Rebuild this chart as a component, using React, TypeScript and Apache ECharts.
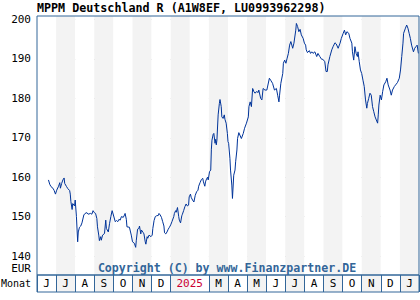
import React, { useEffect, useRef } from 'react';
import * as echarts from 'echarts';

const titleText = 'MPPM Deutschland R (A1W8EF, LU0993962298)';
const copyrightText = 'Copyright (C) by www.Finanzpartner.DE';
const currencyLabel = 'EUR';
const monthRowLabel = 'Monat';
const monthLabels = ['J', 'J', 'A', 'S', 'O', 'N', 'D', '2025', '', 'M', 'A', 'M', 'J', 'J', 'A', 'S', 'O', 'N', 'D', 'J'];
const yearLabelIndex = 7;
const noDividerIndex = 8;
const startYear = 2024;
const startMonth = 6;
const monthCount = 20;
const yMin = 140;
const yMax = 200;
const yStep = 10;

const dates = [
  '2024-06-19', '2024-06-21', '2024-06-23', '2024-06-26', '2024-06-28', '2024-06-30',
  '2024-07-02', '2024-07-05', '2024-07-07', '2024-07-08', '2024-07-10', '2024-07-12', '2024-07-14', '2024-07-15', '2024-07-18', '2024-07-20', '2024-07-23', '2024-07-24', '2024-07-25', '2024-07-27', '2024-07-28', '2024-07-31',
  '2024-08-01', '2024-08-03', '2024-08-05', '2024-08-06', '2024-08-08', '2024-08-10', '2024-08-12', '2024-08-15', '2024-08-17', '2024-08-20', '2024-08-22', '2024-08-26', '2024-08-28', '2024-08-30',
  '2024-09-01', '2024-09-03', '2024-09-05', '2024-09-06', '2024-09-08', '2024-09-09', '2024-09-11', '2024-09-12', '2024-09-14', '2024-09-17', '2024-09-19', '2024-09-20', '2024-09-23', '2024-09-25', '2024-09-27', '2024-09-29',
  '2024-10-01', '2024-10-04', '2024-10-06', '2024-10-08', '2024-10-10', '2024-10-12', '2024-10-14', '2024-10-17', '2024-10-19', '2024-10-20', '2024-10-22', '2024-10-23', '2024-10-27', '2024-10-30',
  '2024-11-01', '2024-11-04', '2024-11-06', '2024-11-07', '2024-11-09', '2024-11-11', '2024-11-12', '2024-11-14', '2024-11-15', '2024-11-18', '2024-11-19', '2024-11-21', '2024-11-22', '2024-11-24', '2024-11-25', '2024-11-27', '2024-11-30',
  '2024-12-02', '2024-12-03', '2024-12-05', '2024-12-07', '2024-12-09', '2024-12-12', '2024-12-13', '2024-12-15', '2024-12-17', '2024-12-19', '2024-12-21', '2024-12-22', '2024-12-24', '2024-12-26', '2024-12-28', '2024-12-30',
  '2025-01-01', '2025-01-03', '2025-01-06', '2025-01-07', '2025-01-09', '2025-01-10', '2025-01-12', '2025-01-14', '2025-01-15', '2025-01-17', '2025-01-19', '2025-01-20', '2025-01-22', '2025-01-24', '2025-01-26', '2025-01-28', '2025-01-30', '2025-01-31',
  '2025-02-02', '2025-02-03', '2025-02-05', '2025-02-07', '2025-02-09', '2025-02-11', '2025-02-13', '2025-02-14', '2025-02-16', '2025-02-18', '2025-02-20', '2025-02-21', '2025-02-23', '2025-02-24', '2025-02-25', '2025-02-27', '2025-02-28',
  '2025-03-02', '2025-03-04', '2025-03-05', '2025-03-06', '2025-03-08', '2025-03-09', '2025-03-11', '2025-03-12', '2025-03-13', '2025-03-14', '2025-03-16', '2025-03-18', '2025-03-19', '2025-03-21', '2025-03-22', '2025-03-24', '2025-03-26', '2025-03-27', '2025-03-29', '2025-03-31',
  '2025-04-01', '2025-04-02', '2025-04-04', '2025-04-05', '2025-04-07', '2025-04-08', '2025-04-10', '2025-04-12', '2025-04-13', '2025-04-15', '2025-04-16', '2025-04-18', '2025-04-22', '2025-04-25', '2025-04-27', '2025-04-30',
  '2025-05-03', '2025-05-04', '2025-05-06', '2025-05-08', '2025-05-10', '2025-05-12', '2025-05-14', '2025-05-16', '2025-05-19', '2025-05-20', '2025-05-23', '2025-05-25', '2025-05-27', '2025-05-30',
  '2025-06-02', '2025-06-06', '2025-06-08', '2025-06-11', '2025-06-14', '2025-06-17', '2025-06-19', '2025-06-21', '2025-06-22', '2025-06-24', '2025-06-27', '2025-06-28', '2025-06-30',
  '2025-07-02', '2025-07-04', '2025-07-06', '2025-07-08', '2025-07-10', '2025-07-13', '2025-07-15', '2025-07-18', '2025-07-19', '2025-07-21', '2025-07-23', '2025-07-25', '2025-07-27', '2025-07-30',
  '2025-08-01', '2025-08-03', '2025-08-04', '2025-08-06', '2025-08-09', '2025-08-11', '2025-08-13', '2025-08-15', '2025-08-18', '2025-08-21', '2025-08-23', '2025-08-26', '2025-08-29', '2025-08-31',
  '2025-09-03', '2025-09-05', '2025-09-07', '2025-09-08', '2025-09-11', '2025-09-14', '2025-09-16', '2025-09-19', '2025-09-21', '2025-09-24', '2025-09-27', '2025-09-29',
  '2025-10-02', '2025-10-04', '2025-10-06', '2025-10-08', '2025-10-11', '2025-10-13', '2025-10-16', '2025-10-17', '2025-10-19', '2025-10-21', '2025-10-23', '2025-10-25', '2025-10-26', '2025-10-28', '2025-10-30',
  '2025-11-01', '2025-11-03', '2025-11-05', '2025-11-07', '2025-11-09', '2025-11-10', '2025-11-12', '2025-11-14', '2025-11-16', '2025-11-18', '2025-11-20', '2025-11-22', '2025-11-24', '2025-11-26', '2025-11-27', '2025-11-28', '2025-11-30',
  '2025-12-02', '2025-12-04', '2025-12-06', '2025-12-09', '2025-12-11', '2025-12-13', '2025-12-16', '2025-12-18', '2025-12-20', '2025-12-23', '2025-12-25', '2025-12-28', '2025-12-31',
  '2026-01-02', '2026-01-04', '2026-01-06', '2026-01-07', '2026-01-10', '2026-01-12', '2026-01-14', '2026-01-16', '2026-01-18', '2026-01-20', '2026-01-23', '2026-01-25', '2026-01-27', '2026-01-29', '2026-01-31',
];

const values = [
  159.3, 158.2, 157.6, 157.2, 156.6, 155.7,
  156.7, 157.7, 158.6, 157.2, 158.4, 159.3, 159.8, 158.4, 157.6, 157.1, 156.6, 155.7, 153.8, 151.8, 153.3, 152.7,
  154.2, 150.0, 143.6, 146.1, 147.3, 147.6, 148.4, 150.4, 150.8, 151.0, 150.6, 150.8, 150.6, 151.5,
  151.0, 150.8, 149.5, 147.4, 145.3, 143.9, 144.9, 144.0, 145.3, 145.7, 149.1, 147.0, 146.1, 148.3, 150.0, 151.5,
  150.4, 148.7, 149.0, 148.7, 149.3, 149.1, 150.0, 149.8, 150.4, 150.8, 149.3, 147.4, 147.3, 145.3,
  143.6, 143.2, 142.2, 144.0, 146.8, 147.0, 147.6, 145.6, 146.6, 145.9, 145.6, 143.6, 143.0, 144.9, 144.5, 145.3, 144.9,
  145.3, 147.0, 149.0, 150.0, 150.2, 150.3, 150.8, 150.4, 149.8, 148.7, 147.6, 145.9, 145.6, 146.1, 146.8, 147.3,
  147.9, 148.7, 150.0, 150.8, 151.5, 151.1, 152.3, 150.0, 149.1, 148.4, 150.2, 150.6, 151.5, 152.5, 153.2, 152.7, 152.9, 155.0,
  155.7, 154.9, 154.2, 153.7, 155.4, 156.3, 156.7, 157.7, 158.6, 159.4, 159.7, 158.8, 157.7, 158.8, 159.3, 160.0, 159.3,
  161.4, 161.8, 167.1, 169.4, 170.9, 171.1, 168.6, 169.6, 168.2, 169.4, 175.8, 178.7, 179.7, 177.9, 175.3, 174.9, 175.8, 174.7, 173.7, 171.1,
  169.0, 168.6, 164.8, 161.8, 158.0, 154.6, 160.5, 161.8, 163.9, 166.9, 169.8, 171.3, 169.8, 171.1, 172.4, 173.7,
  175.3, 177.9, 179.1, 177.9, 182.5, 181.7, 181.3, 181.7, 181.5, 182.1, 180.0, 179.6, 182.5, 182.1,
  182.1, 185.1, 184.6, 183.8, 182.1, 182.5, 180.8, 179.1, 180.8, 183.8, 186.3, 188.9, 189.7,
  188.9, 190.2, 191.4, 193.5, 194.4, 192.7, 194.0, 197.3, 199.0, 198.2, 196.9, 197.5, 196.1, 195.2,
  194.0, 193.5, 192.3, 191.6, 192.1, 191.4, 191.8, 191.4, 191.8, 190.6, 191.4, 190.6, 189.9, 189.9,
  189.3, 186.8, 186.8, 188.5, 190.6, 192.3, 193.1, 194.1, 193.8, 192.7, 194.0, 195.2,
  196.5, 197.3, 196.1, 196.9, 196.5, 195.2, 194.0, 191.8, 189.7, 193.1, 191.4, 190.6, 191.8, 189.3, 187.2,
  186.3, 184.6, 183.0, 179.6, 177.5, 178.7, 180.0, 181.3, 180.8, 177.9, 176.6, 175.3, 174.5, 173.7, 175.8, 178.3, 180.8,
  179.6, 181.7, 183.4, 184.2, 185.1, 183.4, 182.1, 180.8, 182.1, 183.0, 183.4, 184.0, 185.1,
  187.2, 190.6, 194.0, 196.5, 197.8, 198.6, 197.8, 196.5, 195.2, 193.5, 191.8, 192.7, 193.1, 193.5, 191.4,
];

function monthPosition(d: string): number {
  const [y, m, day] = d.split('-').map(Number);
  const daysInMonth = new Date(y, m, 0).getDate();
  return (y - startYear) * 12 + (m - startMonth) + (day - 1) / daysInMonth;
}

const FRAME = '#336699';
const BAND = ['#ffffff', '#f3f3f3'];
const MONO = '"DejaVu Sans Mono", "Liberation Mono", monospace';

export default function App() {
  const ref = useRef<HTMLDivElement>(null);

  useEffect(() => {
    if (!ref.current) return;
    const chart = echarts.init(ref.current, null, { renderer: 'svg' });
    const L = 37;
    const R = 1;
    const option: any = {
      animation: false,
      backgroundColor: '#ffffff',
      grid: [
        { left: L, right: R, top: 16, height: 259, show: true, borderColor: FRAME, borderWidth: 1, backgroundColor: 'transparent', z: 10 },
        { left: L, right: R, top: 19.5, height: 236.5, show: false },
        { left: L, right: R, top: 275, height: 17, show: true, borderColor: FRAME, borderWidth: 1, backgroundColor: 'transparent', z: 10 },
      ],
      xAxis: [
        {
          gridIndex: 0, type: 'value', min: 0, max: monthCount, interval: 1,
          axisLine: { show: false }, axisTick: { show: false }, axisLabel: { show: false },
          splitLine: { show: false },
          splitArea: { show: true, areaStyle: { color: BAND } },
        },
        {
          gridIndex: 1, type: 'value', min: 0, max: monthCount, interval: 1, show: false,
        },
        {
          gridIndex: 2, type: 'category', data: monthLabels, boundaryGap: true,
          axisLine: { show: false }, axisTick: { show: false },
          axisLabel: {
            interval: 0, margin: -8.5, verticalAlign: 'middle',
            fontFamily: MONO, fontSize: 11, color: '#000000',
            formatter: (v: string, i: number) => (i === yearLabelIndex ? '{y|' + v + '}' : v),
            rich: { y: { color: '#cc0033', fontFamily: MONO, fontSize: 11, padding: [0, 0, 0, 19] } },
          },
          splitLine: { show: true, interval: (i: number) => i !== noDividerIndex, lineStyle: { color: FRAME, width: 1 } },
          splitArea: { show: true, interval: 0, areaStyle: { color: BAND } },
        },
      ],
      yAxis: [
        { gridIndex: 0, type: 'value', min: 0, max: 1, show: false },
        {
          gridIndex: 1, type: 'value', min: yMin, max: yMax, interval: yStep,
          axisLine: { show: false }, axisTick: { show: false },
          axisLabel: { margin: 6, fontFamily: MONO, fontSize: 11, color: '#000000' },
          splitLine: { show: true, lineStyle: { color: '#c8c8c8', type: [4, 3], width: 1 } },
        },
        { gridIndex: 2, type: 'value', min: 0, max: 1, show: false },
      ],
      series: [
        {
          type: 'line', xAxisIndex: 1, yAxisIndex: 1,
          data: dates.map((d, i) => [monthPosition(d), values[i]]),
          showSymbol: false, symbol: 'none',
          lineStyle: { color: '#003399', width: 1 },
          z: 5,
        },
      ],
      graphic: [
        {
          type: 'text', left: 37, top: 2,
          style: { text: titleText, fontFamily: MONO, fontWeight: 'bold', fontSize: 11.7, fill: '#000000' },
        },
        {
          type: 'text', x: 31, y: 268,
          style: { text: currencyLabel, fontFamily: MONO, fontSize: 11, fill: '#000000', align: 'right', verticalAlign: 'middle' },
        },
        {
          type: 'text', x: 31, y: 283.5,
          style: { text: monthRowLabel, fontFamily: MONO, fontSize: 10, fill: '#000000', align: 'right', verticalAlign: 'middle' },
        },
        {
          type: 'text', x: 227, y: 268, z: 20,
          style: { text: copyrightText, fontFamily: MONO, fontWeight: 'bold', fontSize: 11.6, fill: FRAME, align: 'center', verticalAlign: 'middle' },
        },
      ],
    };
    chart.setOption(option);
    return () => chart.dispose();
  }, []);

  return <div ref={ref} style={{ position: 'absolute', left: 0, top: 0, width: 420, height: 300 }} />;
}
